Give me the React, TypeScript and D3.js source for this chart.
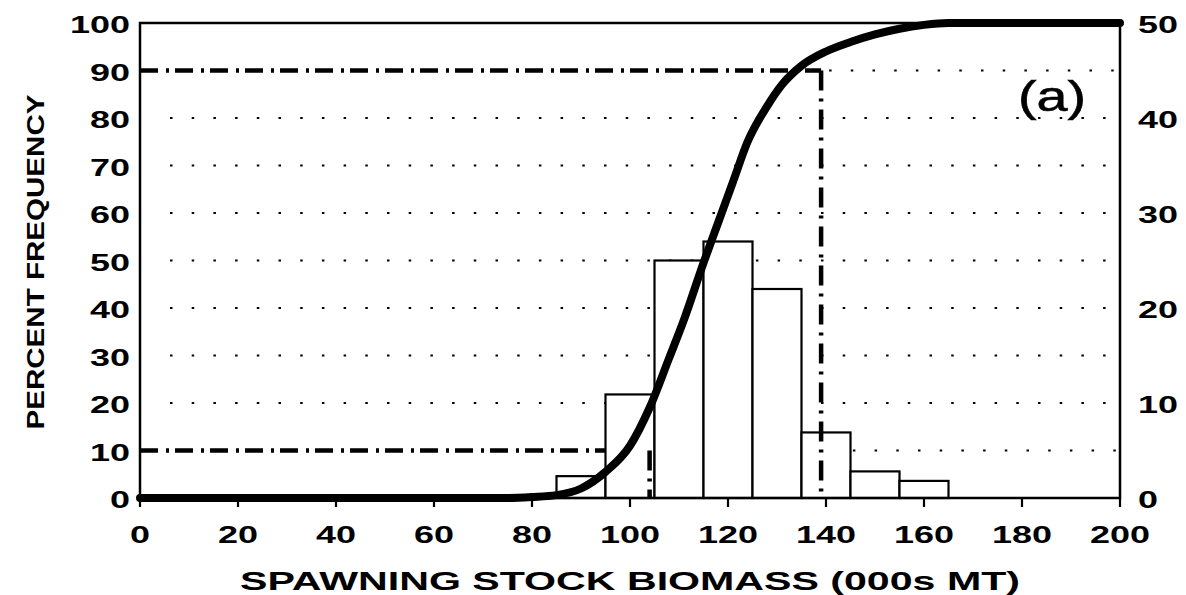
import React from "react";
import * as d3 from "d3";

const xTicks = [0, 20, 40, 60, 80, 100, 120, 140, 160, 180, 200];
const leftTicks = [0, 10, 20, 30, 40, 50, 60, 70, 80, 90, 100];
const rightTicks = [0, 10, 20, 30, 40, 50];
const gridLevels = [10, 20, 30, 40, 50, 60, 70, 80, 90];

// histogram bins (000s MT) and percent frequency (right axis)
const binStarts = [85, 95, 105, 115, 125, 135, 145, 155];
const binValues = [2.3, 10.9, 25.0, 27.0, 22.0, 6.9, 2.8, 1.8];
const binWidth = 10;

// cumulative percent curve (left axis)
const cumX = [0, 75, 80, 85, 90, 95, 100, 104, 108, 111, 115, 118, 121, 124, 128, 131, 135, 140, 145, 150, 155, 160, 165, 200];
const cumY = [0, 0, 0.2, 0.6, 2, 5.5, 11, 19, 29.5, 37.5, 49.5, 58, 66.5, 75, 82.5, 87, 91, 94, 96, 97.6, 98.8, 99.6, 100, 100];

// reference lines: [percent level, biomass]
const refLow = [10, 104];
const refHigh = [90, 139];

const W = 1186;
const H = 595;

export default function App() {
  const x = d3.scaleLinear().domain([0, 200]).range([140, 1120]);
  const yL = d3.scaleLinear().domain([0, 100]).range([498, 23]);
  const yR = d3.scaleLinear().domain([0, 50]).range([498, 23]);

  const line = d3
    .line<number>()
    .x((_, i) => x(cumX[i]))
    .y((d) => yL(d))
    .curve(d3.curveMonotoneX);

  const font = "'Liberation Sans', Arial, sans-serif";

  return (
    <svg width={W} height={H} style={{ position: "absolute", left: 0, top: 0, background: "#fff" }}>
      <rect x={0} y={0} width={W} height={H} fill="#fff" />
      {/* dotted gridlines */}
      {gridLevels.map((g) => {
        const startX =
          g === refHigh[0] ? x(refHigh[1]) + 8 : g === refLow[0] ? x(refLow[1]) + 8 : x(0) + 30;
        return (
          <line
            key={"g" + g}
            x1={startX}
            x2={x(200) - 4}
            y1={yL(g)}
            y2={yL(g)}
            stroke="#000"
            strokeWidth={2.2}
            strokeDasharray="2.5 19.2"
          />
        );
      })}
      {/* horizontal dash-dot reference lines */}
      {[refLow, refHigh].map((r, i) => (
        <line
          key={"h" + i}
          x1={x(0)}
          x2={x(r[1])}
          y1={yL(r[0])}
          y2={yL(r[0])}
          stroke="#000"
          strokeWidth={4.5}
          strokeDasharray="18 8 3 6"
        />
      ))}
      {/* histogram bars */}
      {binStarts.map((b, i) => (
        <rect
          key={"b" + i}
          x={x(b)}
          y={yR(binValues[i])}
          width={x(b + binWidth) - x(b)}
          height={yR(0) - yR(binValues[i])}
          fill="#fff"
          stroke="#000"
          strokeWidth={2.2}
        />
      ))}
      {/* vertical dash-dot reference lines */}
      {[refLow, refHigh].map((r, i) => (
        <line
          key={"v" + i}
          x1={x(r[1])}
          x2={x(r[1])}
          y1={yL(r[0])}
          y2={yL(0)}
          stroke="#000"
          strokeWidth={4.5}
          strokeDasharray="20 8 3 8"
        />
      ))}
      {/* frame */}
      <rect
        x={x(0)}
        y={yL(100)}
        width={x(200) - x(0)}
        height={yL(0) - yL(100)}
        fill="none"
        stroke="#000"
        strokeWidth={2.5}
      />
      {/* cumulative curve */}
      <path d={line(cumY) || ""} fill="none" stroke="#000" strokeWidth={8} strokeLinecap="round" strokeLinejoin="round" />
      {/* x ticks */}
      {xTicks.map((t) => (
        <line key={"xt" + t} x1={x(t)} x2={x(t)} y1={yL(0)} y2={yL(0) + 9} stroke="#000" strokeWidth={2.2} />
      ))}
      {/* x tick labels */}
      {xTicks.map((t) => {
        const s = String(t);
        return (
          <text
            key={"xl" + t}
            x={x(t)}
            y={543}
            textAnchor="middle"
            fontFamily={font}
            fontWeight="bold"
            fontSize={24}
            textLength={s.length * 20}
            lengthAdjust="spacingAndGlyphs"
          >
            {s}
          </text>
        );
      })}
      {/* left labels */}
      {leftTicks.map((t) => {
        const s = String(t);
        return (
          <text
            key={"ll" + t}
            x={130}
            y={yL(t) + 10}
            textAnchor="end"
            fontFamily={font}
            fontWeight="bold"
            fontSize={24}
            textLength={s.length * 20}
            lengthAdjust="spacingAndGlyphs"
          >
            {s}
          </text>
        );
      })}
      {/* right labels */}
      {rightTicks.map((t) => {
        const s = String(t);
        return (
          <text
            key={"rl" + t}
            x={1138}
            y={yR(t) + 10}
            textAnchor="start"
            fontFamily={font}
            fontWeight="bold"
            fontSize={24}
            textLength={s.length * 20}
            lengthAdjust="spacingAndGlyphs"
          >
            {s}
          </text>
        );
      })}
      {/* axis titles */}
      <text
        x={630}
        y={590}
        textAnchor="middle"
        fontFamily={font}
        fontWeight="bold"
        fontSize={25}
        textLength={780}
        lengthAdjust="spacingAndGlyphs"
      >
        SPAWNING STOCK BIOMASS (000s MT)
      </text>
      <text
        transform={`translate(44, 262) rotate(-90)`}
        textAnchor="middle"
        fontFamily={font}
        fontWeight="bold"
        fontSize={23}
        textLength={335}
        lengthAdjust="spacingAndGlyphs"
      >
        PERCENT FREQUENCY
      </text>
      {/* panel label */}
      <text
        x={1052}
        y={111}
        textAnchor="middle"
        fontFamily={font}
        fontSize={42}
        stroke="#000"
        strokeWidth={0.6}
        textLength={68}
        lengthAdjust="spacingAndGlyphs"
      >
        (a)
      </text>
    </svg>
  );
}
